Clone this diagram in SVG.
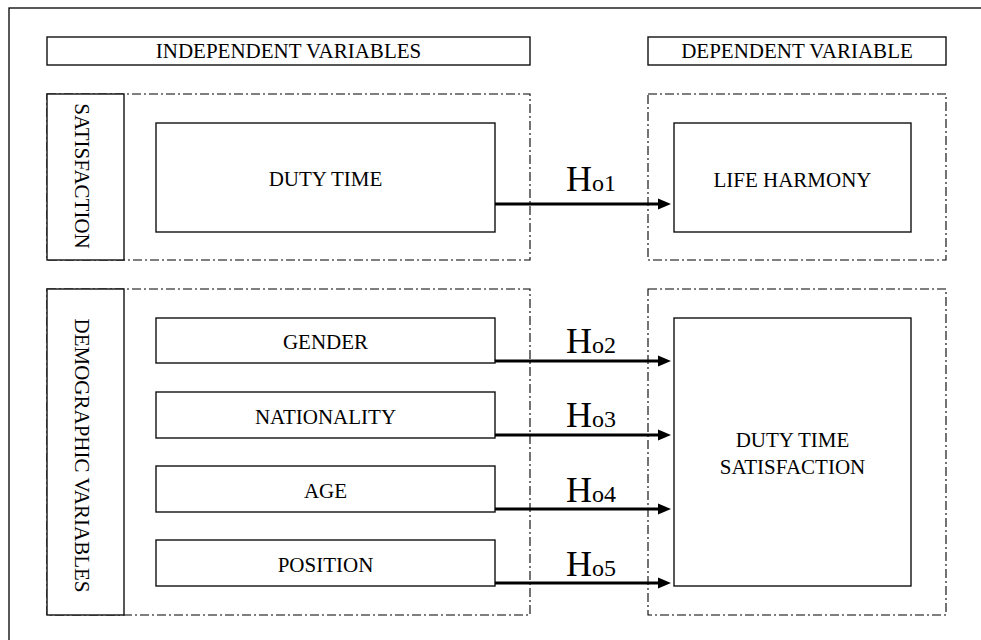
<svg xmlns="http://www.w3.org/2000/svg" width="981" height="640" viewBox="0 0 981 640">
<style>
  .frame{fill:none;stroke:#000;stroke-width:1.3}
  .box{fill:#fff;stroke:#111;stroke-width:1.4}
  .dash{fill:none;stroke:#000;stroke-width:1.1;stroke-dasharray:9 3 2 3}
  .t{font-family:"Liberation Serif","Times New Roman",serif;font-size:21px;fill:#000;text-anchor:middle}
  .h{font-family:"Liberation Serif","Times New Roman",serif;fill:#000}
  .arrow{stroke:#000;stroke-width:3;fill:none;marker-end:url(#ah)}
</style>
<defs>
  <marker id="ah" markerUnits="userSpaceOnUse" markerWidth="14" markerHeight="12" viewBox="0 -6 14 12" refX="0" refY="0" orient="auto">
    <path d="M0,-5.5 L13,0 L0,5.5 z" fill="#000"/>
  </marker>
</defs>
<rect width="981" height="640" fill="#fff"/>
<rect class="frame" x="9" y="8" width="1000" height="700"/>

<g id="hdr-independent">
  <rect class="box" x="47" y="37" width="483" height="28"/>
  <text class="t" x="288.5" y="58">INDEPENDENT VARIABLES</text>
</g>
<g id="hdr-dependent">
  <rect class="box" x="648" y="37" width="298" height="28"/>
  <text class="t" x="797" y="58">DEPENDENT VARIABLE</text>
</g>

<g id="grp-satisfaction">
  <rect class="dash" x="47" y="94" width="483" height="166"/>
  <rect class="box" x="47" y="94" width="77" height="166"/>
  <text class="t" transform="translate(75,176) rotate(90)" x="0" y="0">SATISFACTION</text>
</g>
<g id="grp-demographic">
  <rect class="dash" x="47" y="289" width="483" height="326"/>
  <rect class="box" x="47" y="289" width="77" height="326"/>
  <text class="t" transform="translate(75,455.5) rotate(90)" x="0" y="0">DEMOGRAPHIC VARIABLES</text>
</g>
<g id="grp-dep-top">
  <rect class="dash" x="648" y="94" width="298" height="166"/>
</g>
<g id="grp-dep-bottom">
  <rect class="dash" x="648" y="289" width="298" height="326"/>
</g>

<g id="duty-time">
  <rect class="box" x="156" y="123" width="339" height="109"/>
  <text class="t" x="325.5" y="186">DUTY TIME</text>
</g>
<g id="life-harmony">
  <rect class="box" x="674" y="123" width="237" height="109"/>
  <text class="t" x="792.5" y="187">LIFE HARMONY</text>
</g>
<g id="gender">
  <rect class="box" x="156" y="318" width="339" height="45"/>
  <text class="t" x="325.5" y="349">GENDER</text>
</g>
<g id="nationality">
  <rect class="box" x="156" y="392" width="339" height="46"/>
  <text class="t" x="325.5" y="424">NATIONALITY</text>
</g>
<g id="age">
  <rect class="box" x="156" y="466" width="339" height="46"/>
  <text class="t" x="325.5" y="498">AGE</text>
</g>
<g id="position">
  <rect class="box" x="156" y="540" width="339" height="46"/>
  <text class="t" x="325.5" y="572">POSITION</text>
</g>
<g id="dts">
  <rect class="box" x="674" y="318" width="237" height="268"/>
  <text class="t" x="792.5" y="447">DUTY TIME</text>
  <text class="t" x="792.5" y="474">SATISFACTION</text>
</g>

<g id="connectors">
  <line class="arrow" x1="495" y1="204" x2="658" y2="204"/>
  <line class="arrow" x1="495" y1="361" x2="658" y2="361"/>
  <line class="arrow" x1="495" y1="435" x2="658" y2="435"/>
  <line class="arrow" x1="495" y1="509" x2="658" y2="509"/>
  <line class="arrow" x1="495" y1="583" x2="658" y2="583"/>
  <text class="h" x="566" y="191"><tspan font-size="36">H</tspan><tspan font-size="24">o1</tspan></text>
  <text class="h" x="566" y="353"><tspan font-size="36">H</tspan><tspan font-size="24">o2</tspan></text>
  <text class="h" x="566" y="427"><tspan font-size="36">H</tspan><tspan font-size="24">o3</tspan></text>
  <text class="h" x="566" y="502"><tspan font-size="36">H</tspan><tspan font-size="24">o4</tspan></text>
  <text class="h" x="566" y="576"><tspan font-size="36">H</tspan><tspan font-size="24">o5</tspan></text>
</g>
</svg>
